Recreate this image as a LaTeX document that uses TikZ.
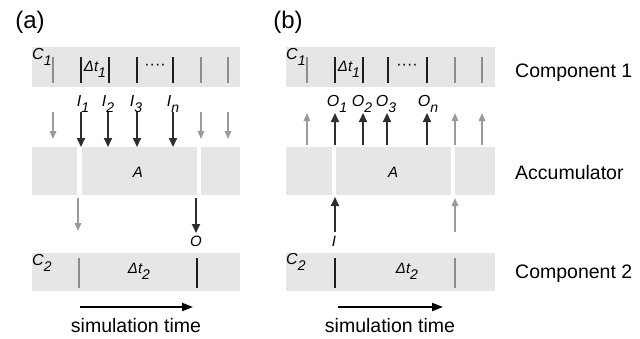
\documentclass[tikz,border=0pt]{standalone}
\usepackage{fontspec}
\setmainfont{Liberation Sans}
\usetikzlibrary{arrows.meta}
\definecolor{bandgray}{HTML}{E6E6E6}
\definecolor{tickdark}{HTML}{1E1E1E}
\definecolor{tickgray}{HTML}{8C8C8C}
\definecolor{arrdark}{HTML}{2E2E2E}
\definecolor{arrgray}{HTML}{9A9A9A}
\newcommand{\sbs}[1]{\raisebox{-0.38em}{\fontsize{14}{14}\selectfont #1}}
\begin{document}
\begin{tikzpicture}[x=1pt,y=-1pt,
 band/.style={fill=bandgray, draw=none, inner sep=0pt, outer sep=0pt, anchor=north west},
 tickd/.style={draw=tickdark, line width=2pt},
 tickg/.style={draw=tickgray, line width=1.6pt},
 arrd/.style={draw=arrdark, line width=1.8pt, -{Triangle[length=9pt,width=8pt]}},
 arrg/.style={draw=arrgray, line width=1.5pt, -{Triangle[length=8pt,width=6.5pt]}},
 var/.style={font=\fontsize{16}{16}\selectfont\itshape, inner sep=0pt},
 small/.style={font=\fontsize{15}{15}\selectfont\itshape, inner sep=0pt},
 big/.style={font=\fontsize{19.5}{20}\selectfont, inner sep=0pt},
 panel/.style={font=\fontsize{24}{24}\selectfont, inner sep=0pt},
 timearr/.style={draw=black, line width=2pt, -{Triangle[length=11pt,width=8pt]}}
]
\useasboundingbox[fill=white] (0,0) rectangle (640,338);

% ================= panel (a) =================
\node[panel] (pa) at (30,22) {(a)};
\node[band, minimum width=208pt, minimum height=40pt] (a-c1) at (32,47) {};
\foreach \x in {53,201,228} \draw[tickg] (\x,57) -- (\x,83);
\foreach \x in {81,109,137,173} \draw[tickd] (\x,57) -- (\x,83);
\node[var, anchor=north west] (a-c1l) at (32,48) {C\sbs{1}};
\node[small] (a-dt1) at (95,69) {Δt\sbs{1}};
\node[var, font=\fontsize{16}{16}\selectfont] (a-dots) at (155,67) {····};
% inputs
\node[var] (a-i1) at (83,104) {I\sbs{1}};
\node[var] (a-i2) at (108,104) {I\sbs{2}};
\node[var] (a-i3) at (136,104) {I\sbs{3}};
\node[var] (a-in) at (173,104) {I\sbs{n}};
\foreach \x in {53,201,228} {
  \coordinate (a-gs\x) at (\x,112); \coordinate (a-ge\x) at (\x,139);
  \draw[arrg] (a-gs\x) -- (a-ge\x);}
\foreach \x in {81,108,137,173} {
  \coordinate (a-bs\x) at (\x,112); \coordinate (a-be\x) at (\x,147);
  \draw[arrd] (a-bs\x) -- (a-be\x);}
% accumulator
\node[band, minimum width=45pt, minimum height=48pt] (a-acc1) at (32,147) {};
\node[band, minimum width=115pt, minimum height=48pt] (a-acc2) at (82,147) {};
\node[band, minimum width=39pt, minimum height=48pt] (a-acc3) at (201,147) {};
\node[small] (a-A) at (138,172) {A};
% outputs
\coordinate (a-os1) at (78,198); \coordinate (a-oe1) at (78,231);
\draw[arrg] (a-os1) -- (a-oe1);
\coordinate (a-os2) at (196,198); \coordinate (a-oe2) at (196,233);
\draw[arrd] (a-os2) -- (a-oe2);
\node[small] (a-O) at (196,241) {O};
% component 2
\node[band, minimum width=208pt, minimum height=38pt] (a-c2) at (32,253) {};
\draw[tickg] (79,258) -- (79,288);
\draw[tickd] (197,258) -- (197,288);
\node[var, anchor=north west] (a-c2l) at (32,254) {C\sbs{2}};
\node[small] (a-dt2) at (139,271) {Δt\sbs{2}};
% time
\coordinate (a-ts) at (80,307); \coordinate (a-te) at (193,307);
\draw[timearr] (a-ts) -- (a-te);
\node[big, anchor=base] (a-time) at (136,332) {simulation time};

% ================= panel (b) =================
\node[panel] (pb) at (288,22) {(b)};
\node[band, minimum width=209pt, minimum height=40pt] (b-c1) at (286,47) {};
\foreach \x in {307,455,482} \draw[tickg] (\x,57) -- (\x,83);
\foreach \x in {335,363,388,427} \draw[tickd] (\x,57) -- (\x,83);
\node[var, anchor=north west] (b-c1l) at (286,48) {C\sbs{1}};
\node[small] (b-dt1) at (349,69) {Δt\sbs{1}};
\node[var, font=\fontsize{16}{16}\selectfont] (b-dots) at (407,67) {····};
% outputs to component 1
\node[var] (b-o1) at (337,104) {O\sbs{1}};
\node[var] (b-o2) at (362,104) {O\sbs{2}};
\node[var] (b-o3) at (386,104) {O\sbs{3}};
\node[var] (b-on) at (428,104) {O\sbs{n}};
\foreach \x in {307,455,482} {
  \coordinate (b-gs\x) at (\x,145); \coordinate (b-ge\x) at (\x,113);
  \draw[arrg] (b-gs\x) -- (b-ge\x);}
\foreach \x in {335,363,387,427} {
  \coordinate (b-bs\x) at (\x,145); \coordinate (b-be\x) at (\x,113);
  \draw[arrd] (b-bs\x) -- (b-be\x);}
% accumulator
\node[band, minimum width=46pt, minimum height=48pt] (b-acc1) at (286,147) {};
\node[band, minimum width=115pt, minimum height=48pt] (b-acc2) at (336,147) {};
\node[band, minimum width=40pt, minimum height=48pt] (b-acc3) at (455,147) {};
\node[small] (b-A) at (393,172) {A};
% input from component 2
\coordinate (b-is1) at (335,232); \coordinate (b-ie1) at (335,197);
\draw[arrd] (b-is1) -- (b-ie1);
\coordinate (b-is2) at (455,232); \coordinate (b-ie2) at (455,198);
\draw[arrg] (b-is2) -- (b-ie2);
\node[small] (b-I) at (334,241) {I};
% component 2
\node[band, minimum width=209pt, minimum height=38pt] (b-c2) at (286,253) {};
\draw[tickd] (335,258) -- (335,288);
\draw[tickg] (455,258) -- (455,288);
\node[var, anchor=north west] (b-c2l) at (286,253) {C\sbs{2}};
\node[small] (b-dt2) at (407,271) {Δt\sbs{2}};
% time
\coordinate (b-ts) at (338,307); \coordinate (b-te) at (443,307);
\draw[timearr] (b-ts) -- (b-te);
\node[big, anchor=base] (b-time) at (390,332) {simulation time};

% ================= right labels =================
\node[big, anchor=base west] (lc1) at (515,77) {Component 1};
\node[big, anchor=base west] (lacc) at (515,179) {Accumulator};
\node[big, anchor=base west] (lc2) at (515,278) {Component 2};
\end{tikzpicture}
\end{document}
